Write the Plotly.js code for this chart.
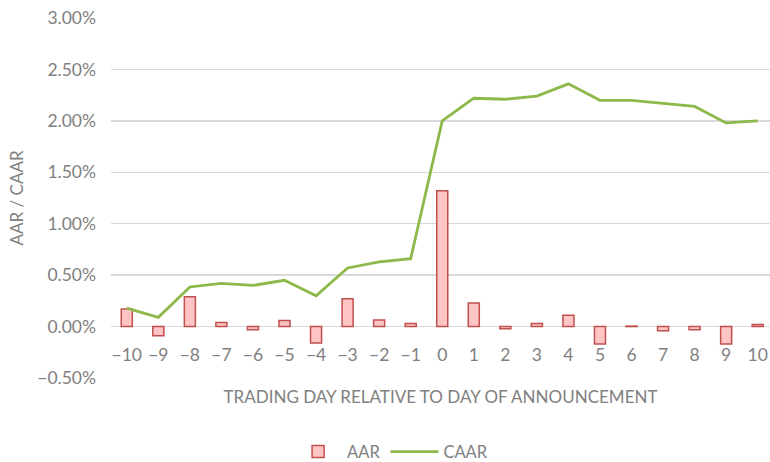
<!DOCTYPE html>
<html>
<head>
<meta charset="utf-8">
<script src="https://cdn.plot.ly/plotly-3.0.1.min.js"></script>
<style>html,body{margin:0;padding:0;background:#fff;}#chart{width:770px;height:462px;}</style>
</head>
<body>
<div id="chart"></div>
<script>
var days = [-10,-9,-8,-7,-6,-5,-4,-3,-2,-1,0,1,2,3,4,5,6,7,8,9,10];
var aar = [0.0017,-0.0009,0.0029,0.0004,-0.0003,0.0006,-0.0016,0.0027,0.00065,0.0003,0.0132,0.0023,-0.0002,0.0003,0.0011,-0.0017,0.00005,-0.0004,-0.0003,-0.0017,0.0002];
var caar = [0.0018,0.0009,0.00385,0.0042,0.0040,0.0045,0.0030,0.0057,0.0063,0.0066,0.0200,0.0222,0.0221,0.0224,0.0236,0.0220,0.0220,0.0217,0.0214,0.0198,0.0200];
var yTicks = [-0.005,0,0.005,0.01,0.015,0.02,0.025,0.03];

var font = 'Lato, "Open Sans", sans-serif';
var gray = '#808080';

var traces = [
  {
    type: 'bar', name: 'AAR', x: days, y: aar, width: 0.35,
    marker: {color: '#ffc4c4', line: {color: '#c0504d', width: 1.5}},
    hoverinfo: 'x+y'
  },
  {
    type: 'scatter', mode: 'lines', name: 'CAAR', x: days, y: caar,
    line: {color: '#8db84a', width: 2.8}
  }
];

var layout = {
  width: 770, height: 462,
  margin: {l: 111, r: 0, t: 18, b: 84, autoexpand: false},
  paper_bgcolor: '#fff', plot_bgcolor: '#fff',
  font: {family: font, color: gray, size: 17},
  showlegend: true,
  legend: {orientation: 'h', x: 0.425, xanchor: 'center', y: -0.205, yanchor: 'middle',
           itemwidth: 48,
           font: {size: 16.5, color: gray}, traceorder: 'normal'},
  xaxis: {
    range: [-10.5, 10.39], dtick: 1, tick0: 0,
    showgrid: false, zeroline: false, showline: false,
    anchor: 'free', position: 0.5/3.5, automargin: false,
    ticks: '', ticklabelstandoff: 16,
    tickfont: {size: 17.5, color: gray},
    title: {text: 'TRADING DAY RELATIVE TO DAY OF ANNOUNCEMENT', font: {size: 17, color: gray}, standoff: 27},
    fixedrange: true
  },
  yaxis: {
    range: [-0.005, 0.03], tickvals: yTicks, tickformat: '.2%',
    showgrid: true, gridcolor: '#d9d9d9', gridwidth: 1.5,
    zeroline: true, zerolinecolor: '#d9d9d9', zerolinewidth: 1.5,
    showline: false, ticks: '', ticklabelstandoff: 14, automargin: false,
    tickfont: {size: 17.5, color: gray},
    title: {text: 'AAR / CAAR', font: {size: 17, color: gray}, standoff: 9},
    fixedrange: true
  }
};

Plotly.newPlot('chart', traces, layout, {displayModeBar: false, staticPlot: true});
</script>
</body>
</html>
